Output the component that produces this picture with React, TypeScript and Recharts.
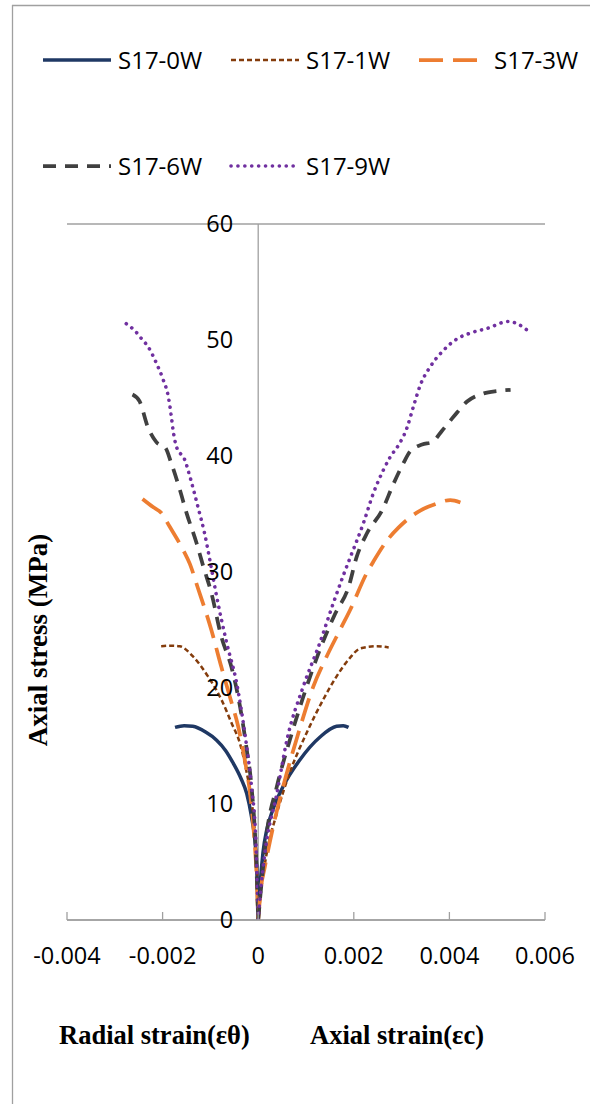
import React from 'react';
import { LineChart, Line, XAxis, YAxis, CartesianGrid, ReferenceLine, ReferenceDot } from 'recharts';

const xTicks = [-0.004, -0.002, 0, 0.002, 0.004, 0.006];
const yTicks = [0, 10, 20, 30, 40, 50, 60];
const seriesNames = ['S17-0W', 'S17-1W', 'S17-3W', 'S17-6W', 'S17-9W'];

// Radial strain (negative) and axial strain (positive) branches: [strain, stress]
const radial0W = [[-0.00174, 16.6], [-0.00155, 16.75], [-0.00137, 16.7], [-0.0011, 16.2], [-0.00087, 15.5], [-0.00068, 14.6], [-0.00052, 13.5], [-0.00036, 12.2], [-0.00024, 10.9], [-0.00014, 8.9], [-0.00007, 6.9], [-0.00003, 4.5], [0, 0]];
const axial0W = [[0, 0], [0.00004, 3], [0.0001, 5.8], [0.00018, 7.8], [0.00028, 9.2], [0.00052, 11.5], [0.00087, 13.8], [0.0013, 15.8], [0.00164, 16.7], [0.00178, 16.75], [0.00189, 16.6]];

const radial1W = [[-0.00203, 23.6], [-0.0018, 23.65], [-0.00164, 23.6], [-0.00136, 22.7], [-0.00105, 21.0], [-0.00077, 19.0], [-0.00056, 17.0], [-0.00038, 15.2], [-0.00024, 12.7], [-0.00014, 10.3], [-0.00007, 7.5], [-0.00002, 3.5], [0, 0]];
const axial1W = [[0, 0], [0.00006, 2.5], [0.00018, 5.8], [0.00039, 9.2], [0.00066, 12.7], [0.00101, 16.1], [0.00136, 19.0], [0.00164, 21.0], [0.00192, 22.6], [0.00213, 23.4], [0.00248, 23.6], [0.00273, 23.5]];

const radial3W = [[-0.00242, 36.3], [-0.0022, 35.6], [-0.00203, 35.1], [-0.00185, 33.9], [-0.00157, 31.9], [-0.00143, 30.7], [-0.00126, 28.6], [-0.00098, 25.0], [-0.00077, 21.8], [-0.00059, 19.2], [-0.00042, 16.7], [-0.00028, 13.8], [-0.00017, 10.9], [-0.00009, 7.5], [-0.00003, 3.5], [0, 0]];
const axial3W = [[0, 0], [0.00005, 2.5], [0.00014, 4.6], [0.00031, 8.0], [0.0006, 12.7], [0.00084, 16.1], [0.00115, 20.1], [0.00143, 22.7], [0.00171, 25.0], [0.00192, 26.7], [0.00227, 29.9], [0.00241, 30.9], [0.00273, 32.9], [0.00293, 33.8], [0.00339, 35.3], [0.00367, 35.8], [0.00402, 36.2], [0.00423, 36.0]];

const radial6W = [[-0.00263, 45.3], [-0.00248, 44.7], [-0.00231, 42.5], [-0.00213, 41.2], [-0.00194, 40.7], [-0.00182, 39.4], [-0.00164, 37.1], [-0.0015, 35.1], [-0.00129, 32.5], [-0.00115, 30.5], [-0.00098, 28.2], [-0.00077, 24.4], [-0.00056, 21.8], [-0.00038, 18.4], [-0.00024, 14.7], [-0.00014, 11.5], [-0.00005, 6.0], [0, 0]];
const axial6W = [[0, 0], [0.00007, 3.2], [0.00018, 7.5], [0.00039, 11.5], [0.00066, 15.5], [0.00094, 19.2], [0.00129, 23.3], [0.00161, 26.4], [0.00189, 28.7], [0.00206, 31.3], [0.00227, 33.3], [0.00259, 35.3], [0.00283, 37.6], [0.00304, 39.4], [0.00318, 40.4], [0.00343, 41.0], [0.00364, 41.2], [0.00385, 42.2], [0.00409, 43.4], [0.00437, 44.7], [0.00472, 45.4], [0.005, 45.6], [0.00528, 45.7]];

const radial9W = [[-0.00276, 51.4], [-0.00258, 50.8], [-0.00244, 50.1], [-0.0023, 49.4], [-0.00213, 48.0], [-0.00199, 46.6], [-0.00188, 45.1], [-0.00182, 43.5], [-0.00178, 42.2], [-0.00171, 40.8], [-0.00154, 39.7], [-0.0014, 37.8], [-0.00126, 35.6], [-0.00112, 33.3], [-0.00101, 31.0], [-0.00087, 27.9], [-0.00066, 23.9], [-0.00045, 20.4], [-0.00028, 16.1], [-0.00014, 11.5], [-0.00005, 6.9], [0, 0]];
const axial9W = [[0, 0], [0.00005, 2.5], [0.00014, 5.8], [0.00039, 10.9], [0.0006, 15.5], [0.00094, 20.1], [0.00129, 23.9], [0.00157, 27.3], [0.00178, 29.7], [0.00192, 31.2], [0.0022, 34.2], [0.00241, 36.8], [0.00262, 38.8], [0.00276, 39.9], [0.00293, 40.9], [0.00311, 42.4], [0.00325, 44.3], [0.00339, 46.1], [0.0036, 47.7], [0.00385, 49.0], [0.00416, 50.1], [0.00444, 50.6], [0.00479, 51.0], [0.00524, 51.6], [0.00542, 51.4], [0.0057, 50.6]];

const toPts = (arr: number[][]) => arr.map(([x, y]) => ({ x, y }));

const styles = [
  { color: '#1F3864', width: 3.5, dash: undefined as string | undefined, cap: 'butt' },
  { color: '#843C0C', width: 2.5, dash: '5 3', cap: 'butt' },
  { color: '#ED7D31', width: 3.75, dash: '24 10', cap: 'butt' },
  { color: '#404040', width: 3.75, dash: '13 9', cap: 'butt' },
  { color: '#7030A0', width: 3.6, dash: '0.1 6.8', cap: 'round' },
];

const radials = [radial0W, radial1W, radial3W, radial6W, radial9W];
const axials = [axial0W, axial1W, axial3W, axial6W, axial9W];

const series = seriesNames.map((name, i) => ({
  name,
  radial: toPts(radials[i]),
  axial: toPts(axials[i]),
  ...styles[i],
}));

const GRID = '#a0a0a0';
const SANS = '"Open Sans", "Noto Sans", sans-serif';
const SERIF = '"Liberation Serif", "Times New Roman", serif';

const XTick = (props: any) => {
  const { x, y, payload } = props;
  return (
    <g>
      <line x1={x} x2={x} y1={y - 8} y2={y} stroke={GRID} strokeWidth={1.3} />
      <text x={x} y={y + 44} textAnchor="middle" fontFamily={SANS} fontSize={23.5} fill="#000">
        {String(payload.value)}
      </text>
    </g>
  );
};

const legendCols = [43, 231, 419];
const legendRows = [60, 166];

export default function App() {
  return (
    <div style={{ position: 'absolute', left: 0, top: 0, width: 590, height: 1104, overflow: 'hidden', background: '#fff' }}>
      <LineChart width={590} height={1104} margin={{ top: 224, right: 45, bottom: 144, left: 67 }}>
        <CartesianGrid vertical={false} stroke={GRID} strokeWidth={1.3} />
        <XAxis
          type="number"
          dataKey="x"
          domain={[-0.004, 0.006]}
          ticks={xTicks}
          interval={0}
          height={40}
          tickSize={0}
          tickMargin={0}
          tickLine={false}
          axisLine={{ stroke: GRID, strokeWidth: 1.3 }}
          tick={(p: any) => <XTick {...p} />}
          allowDataOverflow
        />
        <YAxis type="number" domain={[0, 60]} ticks={yTicks} width={0} axisLine={false} tickLine={false} tick={false} allowDataOverflow />
        <ReferenceLine x={0} stroke={GRID} strokeWidth={1.3} />
        {yTicks.map((v) => (
          <ReferenceDot
            key={'yl' + v}
            x={0}
            y={v}
            r={0}
            fill="none"
            stroke="none"
            label={{ value: String(v), position: 'left', offset: 25, fontSize: 23.5, fill: '#000', fontFamily: SANS }}
          />
        ))}
        {series.map((s) => (
          <Line
            key={s.name + '-r'}
            data={s.radial}
            dataKey="y"
            type="monotone"
            stroke={s.color}
            strokeWidth={s.width}
            strokeDasharray={s.dash}
            strokeLinecap={s.cap as any}
            dot={false}
            activeDot={false}
            legendType="none"
            isAnimationActive={false}
          />
        ))}
        {series.map((s) => (
          <Line
            key={s.name + '-a'}
            name={s.name}
            data={s.axial}
            dataKey="y"
            type="monotone"
            stroke={s.color}
            strokeWidth={s.width}
            strokeDasharray={s.dash}
            strokeLinecap={s.cap as any}
            dot={false}
            activeDot={false}
            isAnimationActive={false}
          />
        ))}
      </LineChart>
      <svg width={590} height={1104} style={{ position: 'absolute', left: 0, top: 0, pointerEvents: 'none' }}>
        <line x1={12.5} x2={12.5} y1={5} y2={1104} stroke={GRID} strokeWidth={1.3} />
        <line x1={12} x2={590} y1={5.5} y2={5.5} stroke={GRID} strokeWidth={1.3} />
        {series.map((s, i) => {
          const cx = legendCols[i % 3];
          const cy = legendRows[Math.floor(i / 3)];
          return (
            <g key={'lg' + s.name}>
              <line x1={cx} x2={cx + 68} y1={cy} y2={cy} stroke={s.color} strokeWidth={s.width} strokeDasharray={s.dash} strokeLinecap={s.cap as any} />
              <text x={cx + 75} y={cy + 8.5} fontFamily={SANS} fontSize={24} fill="#000">{s.name}</text>
            </g>
          );
        })}
        <text transform="translate(38,640) rotate(-90)" textAnchor="middle" dominantBaseline="central" fontFamily={SERIF} fontWeight="bold" fontSize={27} fill="#000">
          Axial stress (MPa)
        </text>
        <text x={59} y={1044} fontFamily={SERIF} fontWeight="bold" fontSize={26.5} fill="#000">Radial strain(εθ)</text>
        <text x={310} y={1044} fontFamily={SERIF} fontWeight="bold" fontSize={26.5} fill="#000">Axial strain(εc)</text>
      </svg>
    </div>
  );
}
